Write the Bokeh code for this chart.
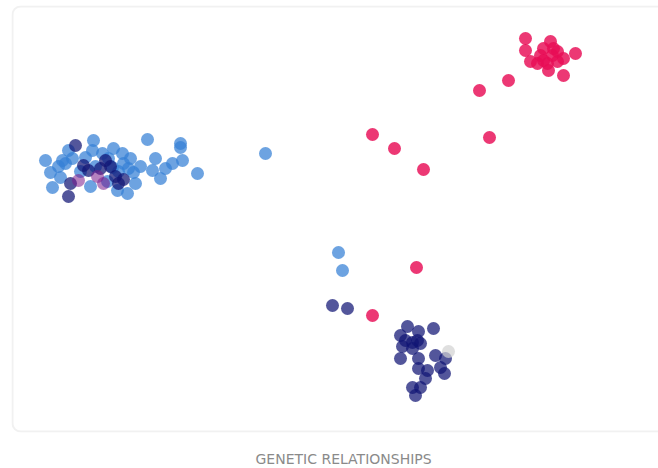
from bokeh.plotting import figure
from bokeh.models import Range1d, BoxAnnotation, Title
from bokeh.embed import file_html
from bokeh.resources import INLINE

# Points (x, y in chart units; y grows downward)
light_x = [45, 50, 52, 62, 68, 65, 60, 85, 92, 93, 102, 113, 122, 123, 112, 133, 135, 127, 117, 130,
           147, 180, 180, 155, 152, 160, 165, 172, 182, 197, 265, 338, 342,
           58, 72, 80, 95, 108, 118, 128, 90, 107, 140]
light_y = [160, 172, 187, 160, 150, 163, 177, 157, 150, 140, 153, 148, 153, 163, 167, 172, 183, 193, 190, 158,
           139, 143, 147, 158, 170, 178, 168, 163, 160, 173, 153, 252, 270,
           166, 158, 171, 166, 158, 171, 168, 186, 181, 166]

navy_x = [75, 83, 88, 105, 110, 100, 115, 123, 118, 70, 68, 332, 347,
          407, 418, 433, 400, 405, 412, 417, 420, 402, 412, 400, 418, 435, 445, 418, 427, 440, 444, 425, 412, 420, 415]
navy_y = [145, 165, 170, 160, 166, 168, 176, 179, 183, 183, 196, 305, 308,
          326, 331, 328, 335, 340, 342, 340, 343, 346, 348, 358, 358, 355, 358, 368, 370, 367, 373, 378, 387, 387, 395]

red_x = [372, 416, 372, 394, 423, 489, 479, 508,
         525, 525, 550, 543, 540, 557, 552, 530, 537, 547, 557, 563, 575, 548, 563, 553, 543]
red_y = [315, 267, 134, 148, 169, 137, 90, 80,
         38, 50, 41, 48, 55, 51, 55, 61, 63, 63, 61, 58, 53, 70, 75, 48, 60]

purple_x = [97, 103, 78]
purple_y = [176, 183, 180]

gray_x = [448]
gray_y = [351]

p = figure(frame_width=647, frame_height=427, output_backend="svg", toolbar_location=None,
           x_range=Range1d(11, 658), y_range=Range1d(432, 5),
           min_border_left=11, min_border_right=0, min_border_top=5, min_border_bottom=0)
p.axis.visible = False
p.grid.visible = False
p.outline_line_color = None
p.background_fill_color = "white"
p.border_fill_color = "white"

box = BoxAnnotation(left=12, right=700, top=6, bottom=431, fill_color=None,
                    line_color="#d2d2d2", line_width=2, border_radius=8, level="underlay")
p.add_layout(box)

sz = 13
p.scatter(light_x, light_y, size=sz, fill_color="#3580d6", fill_alpha=0.72, line_color=None)
p.scatter(navy_x, navy_y, size=sz, fill_color="#101575", fill_alpha=0.72, line_color=None)
p.scatter(purple_x, purple_y, size=sz, fill_color="#7a1a8a", fill_alpha=0.55, line_color=None)
p.scatter(gray_x, gray_y, size=sz, fill_color="#d2d2d2", fill_alpha=0.7, line_color=None)
p.scatter(red_x, red_y, size=sz, fill_color="#e80c55", fill_alpha=0.82, line_color=None)

t = Title(text="GENETIC RELATIONSHIPS", align="left", text_font="DejaVu Sans",
          text_font_size="14px", text_font_style="normal", text_color="#8a8a8a",
          standoff=33, offset=244)
p.add_layout(t, "below")

open("out.html", "w").write(file_html(p, INLINE))
